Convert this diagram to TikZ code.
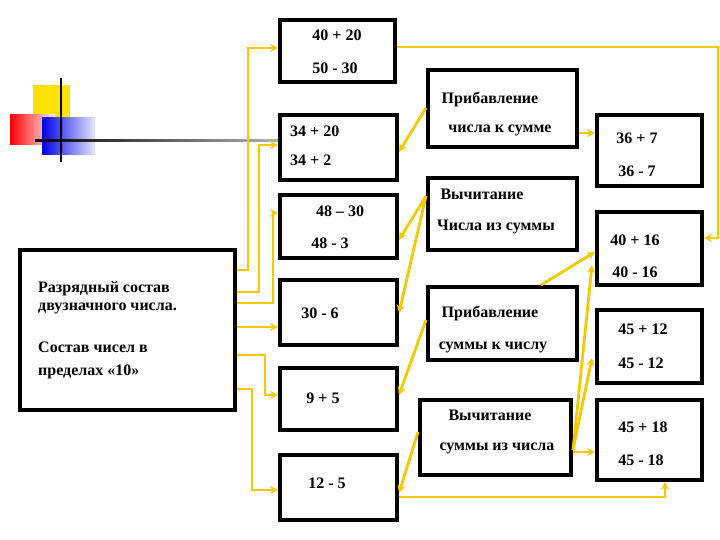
\documentclass[tikz,border=0pt]{standalone}
\usepackage{fontspec}
\setmainfont{Liberation Serif}
\usetikzlibrary{arrows.meta}
\begin{document}
\begin{tikzpicture}[x=1pt,y=-1pt,
  bx/.style={draw=black,line width=4pt,fill=white},
  t/.style={font=\bfseries\fontsize{16}{18}\selectfont,inner sep=0},
  ar/.style={draw={rgb,255:red,245;green,200;blue,0},line width=2.8pt,-{Stealth[length=8pt,width=8pt]}},
  ln/.style={draw={rgb,255:red,245;green,200;blue,0},line width=2.8pt}]
\useasboundingbox (0,0) rectangle (720,540);
% decoration
\fill[yellow!85!orange] (33,85) rectangle (70,120);
\shade[left color=red,right color=red!5] (10,115) rectangle (55,145);
\shade[left color=blue!90!black,right color=blue!10] (42,118) rectangle (95,155);
\shade[left color=black,right color=black!30] (35,140) rectangle (280,142);
\draw[line width=1.5pt] (61,78) -- (61,162);
% boxes
\node[bx,minimum width=115pt,minimum height=62pt] (b1) at (337.5,51) {};
\node[bx,minimum width=117pt,minimum height=65pt] (b2) at (338.5,147.5) {};
\node[bx,minimum width=117pt,minimum height=63pt] (b3) at (338.5,226.5) {};
\node[bx,minimum width=215pt,minimum height=160pt] (L) at (127.5,330) {};
\node[bx,minimum width=117pt,minimum height=65pt] (b4) at (338.5,312.5) {};
\node[bx,minimum width=117pt,minimum height=62pt] (b5) at (338.5,399) {};
\node[bx,minimum width=117pt,minimum height=65pt] (b6) at (338.5,487.5) {};
\node[bx,minimum width=149pt,minimum height=77pt] (m1) at (502.5,108.5) {};
\node[bx,minimum width=149pt,minimum height=72pt] (m2) at (502.5,214) {};
\node[bx,minimum width=149pt,minimum height=73pt] (m3) at (502.5,323.5) {};
\node[bx,minimum width=151pt,minimum height=75pt] (m4) at (495.5,437.5) {};
\node[bx,minimum width=105pt,minimum height=71pt] (r1) at (649.5,150.5) {};
\node[bx,minimum width=105pt,minimum height=73pt] (r2) at (649.5,248.5) {};
\node[bx,minimum width=105pt,minimum height=73pt] (r3) at (649.5,346.5) {};
\node[bx,minimum width=105pt,minimum height=80pt] (r4) at (649.5,440) {};
% texts
\node[t] (t1) at (337,35) {40 + 20};
\node[t] (t2) at (335,68) {50 - 30};
\node[t,anchor=west] (t3) at (290,131) {34 + 20};
\node[t,anchor=west] (t4) at (290,160) {34 + 2};
\node[t] (t5) at (340,211) {48 – 30};
\node[t] (t6) at (330,243) {48 - 3};
\node[t] (t7) at (320,313) {30 - 6};
\node[t] (t8) at (323,398) {9 + 5};
\node[t] (t9) at (327,483) {12 - 5};
\node[t,anchor=west] (l1) at (38,289) {Разрядный состав};
\node[t,anchor=west] (l2) at (38,308) {двузначного числа.};
\node[t,anchor=west] (l3) at (38,347) {Состав чисел в};
\node[t,anchor=west] (l4) at (38,372) {пределах «10»};
\node[t] (n1) at (490,99) {Прибавление};
\node[t] (n2) at (500,130) {числа к сумме};
\node[t] (n3) at (482,194) {Вычитание};
\node[t] (n4) at (496,227) {Числа из суммы};
\node[t] (n5) at (490,313) {Прибавление};
\node[t] (n6) at (493,347) {суммы к числу};
\node[t] (n7) at (490,415) {Вычитание};
\node[t] (n8) at (497,448) {суммы из числа};
\node[t] (s1) at (637,138) {36 + 7};
\node[t] (s2) at (637,171) {36 - 7};
\node[t] (s3) at (635,240) {40 + 16};
\node[t] (s4) at (635,272) {40 - 16};
\node[t] (s5) at (643,329) {45 + 12};
\node[t] (s6) at (641,363) {45 - 12};
\node[t] (s7) at (643,427) {45 + 18};
\node[t] (s8) at (641,460) {45 - 18};
% arrows
\draw[ar] (L.east|-0,270) -| (248,48) -- (b1.west|-0,48);
\draw[ar] (L.east|-0,292) -| (259,145) -- (b2.west|-0,145);
\draw[ar] (L.east|-0,303) -| (273,213) -- (b3.west|-0,213);
\draw[ar] (L.east|-0,327) -- (b4.west|-0,327);
\draw[ar] (L.east|-0,355) -| (265,395) -- (b5.west|-0,395);
\draw[ar] (L.east|-0,389) -| (252,490) -- (b6.west|-0,490);
\draw[ar] (b1.east|-0,47) -| (718,238) -- (r2.east|-0,238);
\draw[ar] (m1.west|-0,108) -- (b2.east|-0,152);
\draw[ar] (m1.east|-0,133) -- (r1.west|-0,133);
\draw[ar] (m2.west|-0,196) -- (b3.east|-0,240);
\draw[ar] (m2.west|-0,196) -- (b4.east|-0,313);
\draw[ar] (541,0|-m3.north) -- (r2.west|-0,252);
\draw[ar] (m3.west|-0,320) -- (b5.east|-0,395);
\draw[ar] (m4.west|-0,432) -- (b6.east|-0,493);
\draw[ar] (m4.east|-0,450) -- (592,265);
\draw[ar] (m4.east|-0,450) -- (592,358);
\draw[ar] (m4.east|-0,452) -- (r4.west|-0,452);
\draw[ar] (b6.east|-0,497) -| (665,0|-r4.south);
\end{tikzpicture}
\end{document}
